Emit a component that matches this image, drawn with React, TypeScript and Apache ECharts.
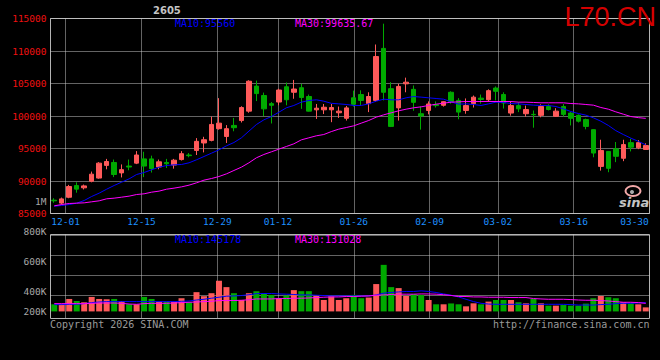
import React, { useEffect, useRef } from 'react';
import * as echarts from 'echarts';

const dates = [
  '11-27', '11-28',
  '12-01', '12-02', '12-03', '12-04', '12-05',
  '12-08', '12-09', '12-10', '12-11', '12-12',
  '12-15', '12-16', '12-17', '12-18', '12-19',
  '12-22', '12-23', '12-24', '12-25', '12-26',
  '12-29', '12-30', '12-31',
  '01-05', '01-06', '01-07', '01-08', '01-09',
  '01-12', '01-13', '01-14', '01-15', '01-16',
  '01-19', '01-20', '01-21', '01-22', '01-23',
  '01-26', '01-27', '01-28', '01-29', '01-30',
  '02-02', '02-03', '02-04', '02-05', '02-06',
  '02-09', '02-10', '02-11', '02-12', '02-13',
  '02-24', '02-25', '02-26', '02-27',
  '03-02', '03-03', '03-04', '03-05', '03-06',
  '03-09', '03-10', '03-11', '03-12', '03-13',
  '03-16', '03-17', '03-18', '03-19', '03-20',
  '03-23', '03-24', '03-25', '03-26', '03-27',
  '03-30',
];

const labelDates = ['12-01', '12-15', '12-29', '01-12', '01-26', '02-09', '03-02', '03-16', '03-30'];

// [open, close, low, high]
const ohlc = [
  [87050, 86950, 86650, 87350], [86600, 87250, 86400, 87450], [87500, 89150, 87350, 89400],
  [89300, 88750, 88200, 89800], [88950, 89250, 88700, 89450], [89950, 91050, 89800, 91450],
  [90450, 92750, 90350, 92900], [92400, 93000, 91800, 93400], [92850, 91000, 90600, 93300],
  [91250, 91750, 90550, 92550], [92300, 92150, 91650, 93300], [92750, 94000, 92600, 94600],
  [93400, 92300, 90600, 94500], [93400, 91900, 91300, 93900], [92150, 92950, 91800, 93300],
  [92850, 92650, 92000, 93400], [92450, 93200, 91900, 93400], [93300, 94200, 93150, 94600],
  [94000, 93900, 93650, 94300], [94700, 96100, 94000, 96600], [95850, 96350, 94400, 96800],
  [96250, 98700, 96100, 99900], [98050, 98900, 97900, 102750], [96850, 98050, 95850, 98600],
  [98550, 98200, 97650, 99700], [99300, 101300, 99000, 101500], [100750, 105350, 100500, 105500],
  [104600, 103450, 102300, 105450], [103150, 101100, 100000, 103600], [101900, 101650, 98850, 102150],
  [102150, 104000, 101650, 104200], [104500, 102500, 101650, 105150], [103650, 104150, 102650, 105550],
  [104350, 102850, 101100, 104950], [103000, 100750, 100700, 103300], [100950, 101200, 99550, 101850],
  [100950, 101350, 100300, 101850], [100950, 101300, 99050, 101850], [100500, 100750, 99700, 101450],
  [99650, 101250, 99300, 101550], [102800, 101800, 101450, 103900], [103300, 102400, 101550, 103950],
  [101900, 103000, 100600, 103650], [102400, 109150, 102150, 111000], [110400, 103650, 102400, 114200],
  [104200, 98400, 98300, 105200], [101250, 104550, 99300, 104950], [104950, 105200, 103650, 105900],
  [104100, 102100, 100800, 104700], [100350, 100000, 97900, 101450], [100850, 101850, 100250, 102250],
  [101750, 101600, 101300, 102250], [101650, 102200, 101450, 102250], [103650, 102250, 101900, 103800],
  [102400, 100600, 99500, 102750], [100850, 101600, 100350, 102700], [101900, 102900, 101300, 103150],
  [102750, 102550, 101900, 103300], [102500, 103900, 102150, 104100], [104300, 103800, 102400, 104550],
  [103300, 102000, 101150, 103650], [100450, 101600, 100050, 102250], [101600, 101100, 100600, 102100],
  [100350, 101000, 99900, 101600], [100250, 100200, 98200, 100850], [100100, 101450, 99800, 101800],
  [101450, 101000, 100850, 101800], [99950, 100750, 99850, 101200], [101450, 100250, 99900, 101850],
  [100450, 99650, 98550, 100600], [100100, 99200, 99000, 100250], [99450, 98400, 97950, 99600],
  [97900, 94300, 93650, 97950], [92250, 94700, 91600, 96350], [94550, 91950, 91350, 94600],
  [94950, 93800, 92900, 96000], [93500, 95600, 93050, 96350], [95900, 95200, 94550, 96500],
  [95100, 95900, 94900, 96300], [94850, 95450, 94800, 95800],
];

const ma10 = [
  86120, 86230, 86380, 86590, 87000, 87620, 88130, 88740, 89310, 89820,
  90330, 91000, 91310, 91720, 92130, 92380, 92490, 92540, 92800, 93260,
  93770, 94280, 94800, 95410, 95920, 96640, 97670, 98690, 99410, 99920,
  100580, 101260, 101620, 102130, 102380, 102490, 102280, 101950, 101870, 101770,
  101620, 101620, 101870, 102280, 102590, 102490, 102490, 102800, 103000, 102900,
  102800, 102690, 102590, 102180, 101820, 101870, 101770, 101620, 101870, 102130,
  102080, 101920, 101870, 101770, 101670, 101620, 101620, 101460, 101100, 100690,
  100380, 100130, 99720, 99200, 98550, 97750, 97150, 96600, 96100, 95560,
];

const ma30 = [
  86180, 86380, 86540, 86590, 86640, 86800, 86950, 87260, 87360, 87510,
  87670, 87920, 88030, 88280, 88440, 88740, 88900, 89100, 89360, 89720,
  90130, 90380, 90690, 91100, 91620, 92130, 92800, 93570, 94080, 94490,
  94900, 95310, 95720, 96330, 96640, 96950, 97150, 97600, 97980, 98230,
  98490, 98900, 99310, 99820, 100180, 100490, 100800, 101050, 101260, 101410,
  101620, 101820, 101970, 102130, 102180, 102230, 102230, 102230, 102230, 102230,
  102230, 102230, 102130, 102130, 102080, 102030, 102030, 102030, 102030, 101920,
  101870, 101770, 101670, 101310, 101050, 100640, 100280, 99920, 99750, 99636,
];

const volumes = [
  116000, 116000, 203000, 170000, 149000, 236000, 203000, 198000, 203000, 170000,
  116000, 116000, 236000, 203000, 160000, 160000, 160000, 215000, 149000, 314000,
  248000, 297000, 500000, 396000, 297000, 186000, 297000, 330000, 285000, 269000,
  215000, 259000, 347000, 330000, 330000, 259000, 186000, 248000, 186000, 215000,
  269000, 215000, 226000, 446000, 759000, 396000, 380000, 252000, 281000, 269000,
  186000, 116000, 116000, 130000, 116000, 83000, 132000, 116000, 160000, 186000,
  186000, 186000, 149000, 132000, 203000, 132000, 94000, 94000, 104000, 94000,
  94000, 127000, 215000, 252000, 231000, 215000, 149000, 132000, 116000, 66000,
];

const volMa10 = [
  111000, 111000, 116000, 116000, 127000, 144000, 153000, 160000, 160000, 160000,
  160000, 160000, 160000, 160000, 160000, 160000, 160000, 165000, 170000, 186000,
  198000, 215000, 231000, 248000, 252000, 259000, 272000, 290000, 292000, 292000,
  285000, 281000, 276000, 269000, 269000, 264000, 259000, 252000, 252000, 252000,
  252000, 252000, 252000, 269000, 297000, 309000, 318000, 325000, 325000, 335000,
  325000, 309000, 285000, 264000, 236000, 198000, 160000, 132000, 120000, 116000,
  116000, 116000, 116000, 116000, 116000, 116000, 116000, 116000, 116000, 111000,
  104000, 104000, 104000, 111000, 116000, 127000, 132000, 132000, 137000, 145178,
];

const volMa30 = [
  127000, 127000, 127000, 127000, 127000, 132000, 137000, 137000, 137000, 132000,
  120000, 116000, 127000, 132000, 132000, 132000, 137000, 144000, 149000, 153000,
  160000, 165000, 177000, 177000, 177000, 182000, 190000, 203000, 203000, 203000,
  210000, 210000, 215000, 215000, 219000, 226000, 231000, 236000, 236000, 243000,
  243000, 248000, 252000, 264000, 269000, 276000, 281000, 281000, 281000, 285000,
  285000, 281000, 272000, 260000, 243000, 243000, 236000, 236000, 231000, 231000,
  231000, 226000, 226000, 226000, 210000, 203000, 198000, 198000, 198000, 193000,
  186000, 182000, 182000, 177000, 170000, 160000, 149000, 149000, 144000, 131028,
];

const priceMin = 85000;
const priceMax = 115000;
const priceStep = 5000;
const volLabelMin = 200000;
const volLabelMax = 1000000;
const volLabelStep = 200000;
const volAxisMin = -115500;
const volAxisMax = 1254000;

const contractCode = '2605';
const symbolText = 'L70.CN';
const priceMa10Text = 'MA10:95560';
const priceMa30Text = 'MA30:99635.67';
const volMa10Text = 'MA10:145178';
const volMa30Text = 'MA30:131028';

const RED = '#ff5a5a';
const GREEN = '#00aa00';
const BORDER = '#b4b4b4';
const GRIDC = '#c8c8c8';
const MONO = '"DejaVu Sans Mono", monospace';

export default function App() {
  const ref = useRef<HTMLDivElement>(null);
  useEffect(() => {
    if (!ref.current) return;
    const chart = echarts.init(ref.current, null, { renderer: 'svg' });
    const labelIdx = new Set(labelDates.map((d) => dates.indexOf(d)));
    const lastIdx = dates.length - 1;
    const gridIdx = new Set([...labelIdx].filter((i) => i !== lastIdx));
    const dotted = { color: GRIDC, type: [1, 1] as any, width: 1 };

    const volData = volumes.map((v, i) => ({
      value: v,
      itemStyle: { color: ohlc[i][1] >= ohlc[i][0] ? RED : GREEN },
    }));

    const txt = (text: string, x: number, y: number, fill: string, font: string, align = 'left') => ({
      type: 'text',
      x,
      y,
      silent: true,
      z: 50,
      style: {
        text,
        fill,
        font,
        textAlign: align,
        align,
        textVerticalAlign: 'middle',
        verticalAlign: 'middle',
      },
    });

    const option: any = {
      animation: false,
      backgroundColor: '#000000',
      grid: [
        { left: 50.5, top: 18.5, width: 599, height: 195, show: true, borderColor: BORDER, borderWidth: 1, backgroundColor: 'transparent' },
        { left: 50.5, top: 234.5, width: 599, height: 84, show: true, borderColor: BORDER, borderWidth: 1, backgroundColor: 'transparent' },
        { left: 50.5, top: 201, width: 599, height: 120 },
        { left: 50.5, top: 235.5, width: 599, height: 60 },
      ],
      xAxis: [
        { type: 'category', gridIndex: 0, position: 'top', data: dates, boundaryGap: true, show: false },
        {
          type: 'category', gridIndex: 0, position: 'bottom', data: dates, boundaryGap: false,
          axisLine: { show: false }, axisTick: { show: false },
          axisLabel: {
            show: true,
            interval: (i: number) => labelIdx.has(i),
            color: '#1e90ff', fontSize: 9.5, fontFamily: MONO, margin: 3,
            formatter: (v: string, i: number) => (i === lastIdx ? `{e|${v}}` : v),
            rich: { e: { padding: [0, 30, 0, 0], color: '#1e90ff', fontSize: 9.5, fontFamily: MONO } },
          },
          splitLine: { show: true, interval: (i: number) => gridIdx.has(i), lineStyle: dotted },
        },
        { type: 'category', gridIndex: 1, position: 'top', data: dates, boundaryGap: true, show: false },
        {
          type: 'category', gridIndex: 1, position: 'bottom', data: dates, boundaryGap: false,
          axisLine: { show: false }, axisTick: { show: false }, axisLabel: { show: false },
          splitLine: { show: true, interval: (i: number) => gridIdx.has(i), lineStyle: dotted },
        },
        { type: 'value', gridIndex: 2, min: 0, max: 1, show: false },
        { type: 'value', gridIndex: 3, min: 0, max: 1, show: false },
      ],
      yAxis: [
        {
          type: 'value', gridIndex: 0, min: priceMin, max: priceMax, interval: priceStep,
          axisLine: { show: false }, axisTick: { show: false },
          axisLabel: { color: '#f01010', fontSize: 9.5, fontFamily: MONO, margin: 4, formatter: (v: number) => String(v) },
          splitLine: { show: true, lineStyle: dotted },
        },
        { type: 'value', gridIndex: 1, min: volAxisMin, max: volAxisMax, show: false },
        {
          type: 'value', gridIndex: 2, min: volLabelMin, max: volLabelMax, interval: volLabelStep,
          axisLine: { show: false }, axisTick: { show: false }, splitLine: { show: false },
          axisLabel: {
            color: '#a8a8a8', fontSize: 9.5, fontFamily: MONO, margin: 4,
            formatter: (v: number) => {
              if (v >= 1000000) return '1M';
              if (v === volLabelMin) return `{s|${v / 1000}K}`;
              return `${v / 1000}K`;
            },
            rich: { s: { padding: [0, 0, 20, 0], color: '#a8a8a8', fontSize: 9.5, fontFamily: MONO } },
          },
        },
        {
          type: 'value', gridIndex: 3, min: 0, max: 3, interval: 1,
          axisLine: { show: false }, axisTick: { show: false }, axisLabel: { show: false },
          splitLine: { show: true, lineStyle: dotted },
        },
      ],
      series: [
        {
          type: 'candlestick', xAxisIndex: 0, yAxisIndex: 0, data: ohlc, barWidth: 5, silent: true,
          itemStyle: { color: RED, color0: GREEN, borderColor: RED, borderColor0: GREEN, borderWidth: 1 },
        },
        { type: 'line', xAxisIndex: 0, yAxisIndex: 0, data: ma10, symbol: 'none', silent: true, lineStyle: { color: '#0000ff', width: 1 } },
        { type: 'line', xAxisIndex: 0, yAxisIndex: 0, data: ma30, symbol: 'none', silent: true, lineStyle: { color: '#ff00ff', width: 1 } },
        { type: 'bar', xAxisIndex: 2, yAxisIndex: 1, data: volData, barWidth: 6, silent: true },
        { type: 'line', xAxisIndex: 2, yAxisIndex: 1, data: volMa10, symbol: 'none', silent: true, lineStyle: { color: '#0000ff', width: 1 } },
        { type: 'line', xAxisIndex: 2, yAxisIndex: 1, data: volMa30, symbol: 'none', silent: true, lineStyle: { color: '#ff00ff', width: 1 } },
      ],
      graphic: [
        txt(contractCode, 153, 10, '#c4c4c4', 'bold 10px "DejaVu Sans"'),
        txt(symbolText, 656, 17, '#d40000', '27px "Liberation Sans"', 'right'),
        txt(priceMa10Text, 175, 23, '#0000ff', `10px ${MONO}`),
        txt(priceMa30Text, 295, 23, '#ff00ff', `10px ${MONO}`),
        txt(volMa10Text, 175, 239, '#0000ff', `10px ${MONO}`),
        txt(volMa30Text, 295, 239, '#ff00ff', `10px ${MONO}`),
        txt('Copyright 2026 SINA.COM', 50, 324, '#9a9a9a', `10px ${MONO}`),
        txt('http://finance.sina.com.cn', 649.5, 324, '#9a9a9a', `10px ${MONO}`, 'right'),
        {
          type: 'ellipse', silent: true, z: 50,
          shape: { cx: 633, cy: 191, rx: 7.5, ry: 5 },
          style: { fill: 'none', stroke: '#f2a8a8', lineWidth: 2 },
        },
        { type: 'circle', silent: true, z: 51, shape: { cx: 632, cy: 192, r: 2 }, style: { fill: '#aaaaaa' } },
        txt('sina', 619, 202, '#c4c4c4', 'italic bold 13px "DejaVu Sans"'),
      ],
    };
    chart.setOption(option);
    return () => chart.dispose();
  }, []);

  return (
    <div
      ref={ref}
      style={{ position: 'fixed', left: 0, top: 0, width: 660, height: 360, background: '#000' }}
    />
  );
}
